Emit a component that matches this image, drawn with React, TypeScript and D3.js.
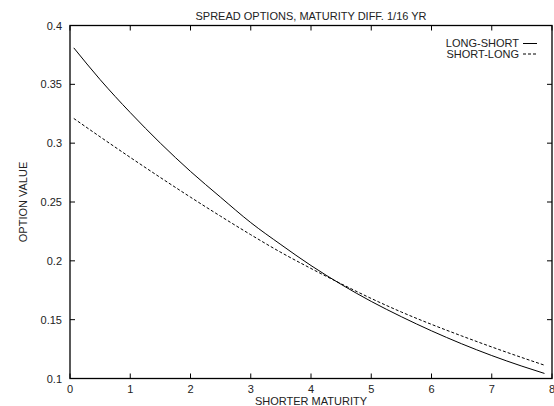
import React from "react";
import * as d3 from "d3";

const maturity = [0.0625, 0.5, 1, 1.5, 2, 2.5, 3, 3.5, 4, 4.5, 5, 5.5, 6, 6.5, 7, 7.5, 7.875];
const longShort = [0.381, 0.354, 0.326, 0.3, 0.276, 0.254, 0.2325, 0.2138, 0.196, 0.18, 0.1655, 0.1525, 0.1405, 0.1295, 0.1195, 0.1105, 0.1043];
const shortLong = [0.321, 0.3054, 0.2879, 0.2708, 0.2541, 0.2379, 0.2222, 0.2072, 0.1935, 0.1805, 0.168, 0.1565, 0.146, 0.1362, 0.1268, 0.1178, 0.1113];
const xTicks = [0, 1, 2, 3, 4, 5, 6, 7, 8];
const yTicks = [0.1, 0.15, 0.2, 0.25, 0.3, 0.35, 0.4];
const seriesNames = ["LONG-SHORT", "SHORT-LONG"];
const title = "SPREAD OPTIONS, MATURITY DIFF. 1/16 YR";
const xTitle = "SHORTER MATURITY";
const yTitle = "OPTION VALUE";

const W = 554;
const H = 406;
const L = 70, R = 552, T = 25.5, B = 378.5;
const font = "'Liberation Sans', Arial, Helvetica, sans-serif";
const fs = 11;
const tick = 5;

export default function App() {
  const x = d3.scaleLinear().domain([0, 8]).range([L, R]);
  const y = d3.scaleLinear().domain([0.1, 0.4]).range([B, T]);
  const line = d3
    .line<number>()
    .x((_, i) => x(maturity[i]))
    .y((d) => y(d))
    .curve(d3.curveMonotoneX);
  const fmt = (v: number) => String(+v.toFixed(2));
  return (
    <svg
      width={W}
      height={H}
      style={{ position: "absolute", left: 0, top: 0, background: "#fff" }}
      fontFamily={font}
      fontSize={fs}
    >
      <rect x={0} y={0} width={W} height={H} fill="#fff" />
      <text x={(L + R) / 2} y={20} textAnchor="middle" fill="#222">
        {title}
      </text>
      {xTicks.map((t) => (
        <g key={"x" + t}>
          <line x1={x(t)} x2={x(t)} y1={B} y2={B - tick} stroke="#000" />
          <line x1={x(t)} x2={x(t)} y1={T} y2={T + tick} stroke="#000" />
          <text x={x(t)} y={B + 14} textAnchor="middle" fill="#222">
            {t}
          </text>
        </g>
      ))}
      {yTicks.map((t) => (
        <g key={"y" + t}>
          <line x1={L} x2={L + tick} y1={y(t)} y2={y(t)} stroke="#000" />
          <line x1={R} x2={R - tick} y1={y(t)} y2={y(t)} stroke="#000" />
          <text x={L - 8} y={y(t) + 4} textAnchor="end" fill="#222">
            {fmt(t)}
          </text>
        </g>
      ))}
      <text x={(L + R) / 2} y={404.5} textAnchor="middle" fill="#222">
        {xTitle}
      </text>
      <text
        transform={`translate(${27},${(T + B) / 2}) rotate(-90)`}
        textAnchor="middle"
        fill="#222"
      >
        {yTitle}
      </text>
      <path d={line(longShort) || ""} fill="none" stroke="#000" strokeWidth={1} />
      <path d={line(shortLong) || ""} fill="none" stroke="#000" strokeWidth={1} strokeDasharray="3,2" />
      <rect x={L} y={T} width={R - L} height={B - T} fill="none" stroke="#000" strokeWidth={1.3} />
      {seriesNames.map((n, i) => (
        <g key={n}>
          <text x={519} y={47 + i * 10.5} textAnchor="end" fill="#222">
            {n}
          </text>
          <line
            x1={523}
            x2={537}
            y1={43.5 + i * 10.5}
            y2={43.5 + i * 10.5}
            stroke="#000"
            strokeDasharray={i === 1 ? "3,2" : undefined}
          />
        </g>
      ))}
    </svg>
  );
}
